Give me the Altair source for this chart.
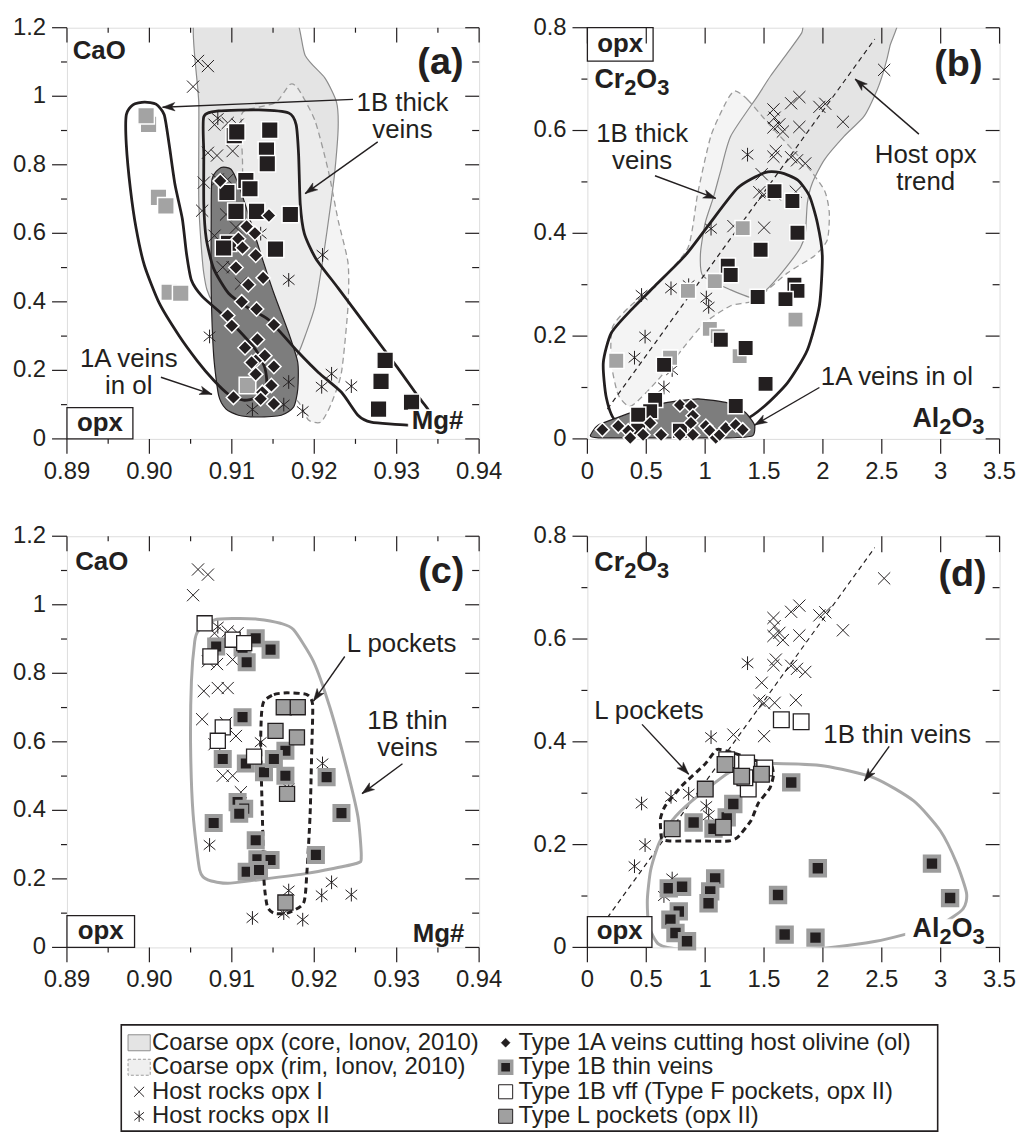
import math
import altair as alt
import pandas as pd

FONT = "Liberation Sans"
INK = "#231f20"
CORE_FILL = "#e4e4e4"
RIM_FILL = "#efefef"
CORE_LINE = "#8c8c8c"
RIM_LINE = "#9b9b9b"
DARK_FILL = "#7d7d7d"
SQ_GRAY = "#a3a3a3"
THIN_RIM = "#9c9c9c"
THIN_LINE = "#a8a8a8"
L_FILL = "#a0a0a0"

W, H = 415, 414
TICK_FONT = 24
NOTE_FONT = 26

# ---------------------------------------------------------------- axes
MG_DOMAIN = [0.89, 0.94]
CAO_DOMAIN = [0.0, 1.2]
AL_DOMAIN = [0.0, 3.5]
CR_DOMAIN = [0.0, 0.8]

MG_MAJOR = [0.89, 0.90, 0.91, 0.92, 0.93, 0.94]
MG_LABELS = ["0.89", "0.90", "0.91", "0.92", "0.93", "0.94"]
MG_MINOR = [0.895, 0.905, 0.915, 0.925, 0.935]
CAO_MAJOR = [0, 0.2, 0.4, 0.6, 0.8, 1.0, 1.2]
CAO_LABELS = ["0", "0.2", "0.4", "0.6", "0.8", "1", "1.2"]
CAO_MINOR = [0.1, 0.3, 0.5, 0.7, 0.9, 1.1]
AL_MAJOR = [0, 0.5, 1, 1.5, 2, 2.5, 3, 3.5]
AL_LABELS = ["0", "0.5", "1", "1.5", "2", "2.5", "3", "3.5"]
CR_MAJOR = [0, 0.2, 0.4, 0.6, 0.8]
CR_LABELS = ["0", "0.2", "0.4", "0.6", "0.8"]
CR_MINOR = [0.1, 0.3, 0.5, 0.7]

# ---------------------------------------------------------------- host rocks
HOST1_MG = [0.9059, 0.9071, 0.9053, 0.9079, 0.9095, 0.9107, 0.9071, 0.9082, 0.9101, 0.9066,
            0.9083, 0.9095, 0.9064, 0.9093, 0.9105, 0.9079, 0.9089, 0.9101, 0.9111]
HOST1_CAO = [1.103, 1.088, 1.028, 0.917, 0.922, 0.917, 0.835, 0.827, 0.840, 0.748,
             0.757, 0.757, 0.666, 0.655, 0.617, 0.593, 0.501, 0.501, 0.453]
HOST2_MG = [0.9083, 0.9135, 0.9073, 0.9169, 0.9163, 0.9221, 0.9209, 0.9245, 0.9186, 0.9125, 0.9210, 0.9169]
HOST2_CAO = [0.936, 0.599, 0.299, 0.166, 0.100, 0.190, 0.152, 0.154, 0.081, 0.086, 0.537, 0.464]

HOST1_AL = [2.52, 1.58, 1.59, 1.73, 1.80, 1.97, 2.02, 2.17, 1.58, 1.66, 1.80, 1.63,
            1.60, 1.58, 1.73, 1.78, 1.85, 1.48, 1.46, 1.50, 1.59, 1.77, 1.50, 1.24]
HOST1_CR = [0.718, 0.641, 0.625, 0.653, 0.665, 0.646, 0.652, 0.617, 0.606, 0.598, 0.607, 0.612,
            0.560, 0.549, 0.548, 0.542, 0.536, 0.515, 0.480, 0.475, 0.476, 0.481, 0.411, 0.414]
HOST2_AL = [1.36, 1.05, 0.46, 0.71, 0.86, 1.01, 1.03, 0.49, 0.40, 0.72, 0.65]
HOST2_CR = [0.553, 0.409, 0.280, 0.293, 0.299, 0.275, 0.257, 0.199, 0.158, 0.134, 0.100]

# ---------------------------------------------------------------- (a) veins, CaO vs Mg#
A_BLACK_MG = [0.9103, 0.9106, 0.9146, 0.9142, 0.9143, 0.9117, 0.9122, 0.9094, 0.9105, 0.9130,
              0.9171, 0.9096, 0.9090, 0.9153, 0.9286, 0.9281, 0.9278, 0.9318]
A_BLACK_CAO = [0.885, 0.896, 0.901, 0.843, 0.803, 0.754, 0.730, 0.719, 0.664, 0.664,
               0.655, 0.571, 0.557, 0.554, 0.229, 0.168, 0.087, 0.107]
A_GRAY_MG = [0.8999, 0.8996, 0.9011, 0.9020, 0.9024, 0.9038, 0.9119]
A_GRAY_CAO = [0.918, 0.943, 0.705, 0.680, 0.428, 0.425, 0.156]
A_1A_MG = [0.9086, 0.9108, 0.9113, 0.9129, 0.9145, 0.9095, 0.9130, 0.9131, 0.9116, 0.9140,
           0.9129, 0.9129, 0.9102, 0.9137, 0.9135, 0.9151, 0.9151, 0.9148, 0.9151, 0.9124,
           0.9118, 0.9128, 0.9105, 0.9120, 0.9138, 0.9112, 0.9100]
A_1A_CAO = [0.753, 0.584, 0.558, 0.536, 0.652, 0.360, 0.379, 0.290, 0.266, 0.243,
            0.228, 0.189, 0.121, 0.136, 0.117, 0.333, 0.211, 0.156, 0.102, 0.223,
            0.620, 0.600, 0.500, 0.450, 0.470, 0.400, 0.330]

# ---------------------------------------------------------------- (b) veins, Cr2O3 vs Al2O3
B_BLACK_AL = [1.589, 1.741, 1.784, 1.471, 1.758, 1.784, 1.682, 1.446, 1.192, 1.217,
              1.133, 1.344, 1.513, 0.651, 0.575, 0.533, 0.431, 1.260, 0.431, 0.786]
B_BLACK_CR = [0.482, 0.463, 0.401, 0.368, 0.300, 0.288, 0.272, 0.276, 0.337, 0.319,
              0.193, 0.177, 0.107, 0.144, 0.076, 0.054, 0.047, 0.064, 0.016, 0.016]
B_GRAY_AL = [1.319, 0.854, 1.082, 1.040, 1.107, 0.245, 0.702, 1.293, 1.767]
B_GRAY_CR = [0.410, 0.288, 0.307, 0.214, 0.200, 0.152, 0.158, 0.161, 0.232]
B_1A_AL = [0.127, 0.262, 0.347, 0.364, 0.473, 0.533, 0.626, 0.786, 0.879, 0.896,
           0.879, 0.786, 0.896, 1.006, 1.040, 1.090, 1.124, 1.175, 1.260, 1.319]
B_1A_CR = [0.018, 0.025, 0.016, 0.002, 0.008, 0.031, 0.008, 0.066, 0.064, 0.045,
           0.031, 0.008, 0.008, 0.025, 0.016, 0.002, 0.008, 0.021, 0.027, 0.018]

# ---------------------------------------------------------------- (c) thin veins and pockets, CaO vs Mg#
C_THIN_MG = [0.9081, 0.9113, 0.9129, 0.9147, 0.9118, 0.9113, 0.9089, 0.9117, 0.9139, 0.9165,
             0.9151, 0.9165, 0.9215, 0.9107, 0.9115, 0.9109, 0.9078, 0.9233, 0.9129, 0.9131,
             0.9147, 0.9118, 0.9133, 0.9202]
C_THIN_CAO = [0.878, 0.875, 0.902, 0.869, 0.832, 0.672, 0.550, 0.537, 0.511, 0.574,
              0.550, 0.501, 0.497, 0.424, 0.405, 0.390, 0.363, 0.392, 0.313, 0.257,
              0.255, 0.221, 0.226, 0.270]
C_VFF_MG = [0.9067, 0.9101, 0.9115, 0.9074, 0.9089, 0.9083, 0.9127]
C_VFF_CAO = [0.946, 0.898, 0.888, 0.849, 0.642, 0.603, 0.557]
C_L_MG = [0.9163, 0.9180, 0.9153, 0.9179, 0.9167, 0.9165]
C_L_CAO = [0.701, 0.701, 0.632, 0.613, 0.448, 0.131]

# ---------------------------------------------------------------- (d) thin veins and pockets, Cr2O3 vs Al2O3
D_THIN_AL = [0.691, 0.804, 1.085, 1.043, 1.029, 0.776, 0.705, 0.748, 0.846, 0.902,
             1.071, 1.183, 1.239, 1.731, 1.957, 1.619, 2.926, 3.080, 1.675, 1.937]
D_THIN_CR = [0.115, 0.118, 0.134, 0.109, 0.086, 0.070, 0.054, 0.028, 0.012, 0.243,
             0.231, 0.253, 0.279, 0.321, 0.154, 0.102, 0.163, 0.096, 0.025, 0.019]
D_VFF_AL = [1.647, 1.815, 1.183, 1.352, 1.366, 1.506, 1.337]
D_VFF_CR = [0.443, 0.439, 0.365, 0.359, 0.308, 0.349, 0.330]
D_L_AL = [0.720, 1.001, 1.169, 1.310, 1.155, 1.478]
D_L_CR = [0.231, 0.308, 0.356, 0.333, 0.234, 0.337]

# ---------------------------------------------------------------- outlined fields (x, y vertices)
A_CORE_FIELD = [(0.9058, 1.26), (0.9169, 1.26), (0.9189, 1.119), (0.9213, 1.053), (0.9227, 0.983),
                (0.9229, 0.908), (0.9225, 0.781), (0.9220, 0.685), (0.9211, 0.532), (0.9201, 0.388),
                (0.9189, 0.301), (0.9181, 0.252), (0.9169, 0.217), (0.9145, 0.237), (0.9078, 0.396),
                (0.9066, 0.483), (0.9060, 0.685), (0.9060, 0.975)]
A_RIM_FIELD = [(0.9112, 0.948), (0.9133, 0.968), (0.9154, 0.983), (0.9171, 1.035), (0.9181, 1.020),
               (0.9201, 0.928), (0.9217, 0.783), (0.9229, 0.638), (0.9241, 0.513), (0.9241, 0.388),
               (0.9233, 0.194), (0.9220, 0.099), (0.9208, 0.049), (0.9193, 0.055), (0.9181, 0.107),
               (0.9157, 0.165), (0.9120, 0.310), (0.9114, 0.542), (0.9113, 0.803)]
A_1A_FIELD = [(0.9087, 0.792), (0.9076, 0.758), (0.9075, 0.628), (0.9075, 0.434), (0.9078, 0.243),
              (0.9084, 0.127), (0.9093, 0.087), (0.9108, 0.069), (0.9129, 0.064), (0.9160, 0.069),
              (0.9175, 0.093), (0.9180, 0.145), (0.9180, 0.223), (0.9169, 0.309), (0.9151, 0.425),
              (0.9135, 0.541), (0.9120, 0.656), (0.9108, 0.743), (0.9099, 0.787)]
A_1B_LEFT = [(0.8994, 0.983), (0.9008, 0.977), (0.9018, 0.946), (0.9024, 0.859), (0.9031, 0.743),
             (0.9040, 0.642), (0.9045, 0.541), (0.9051, 0.463), (0.9064, 0.416), (0.9087, 0.367),
             (0.9108, 0.318), (0.9129, 0.260), (0.9140, 0.208), (0.9142, 0.159), (0.9130, 0.121),
             (0.9114, 0.113), (0.9096, 0.130), (0.9078, 0.171), (0.9058, 0.228), (0.9036, 0.301),
             (0.9012, 0.396), (0.8994, 0.506), (0.8984, 0.613), (0.8977, 0.729), (0.8972, 0.859),
             (0.8972, 0.946), (0.8980, 0.975)]
A_1B_RIGHT = [(0.9066, 0.940), (0.9084, 0.957), (0.9133, 0.960), (0.9169, 0.951), (0.9178, 0.917),
              (0.9181, 0.830), (0.9183, 0.685), (0.9188, 0.599), (0.9202, 0.526), (0.9229, 0.440),
              (0.9265, 0.324), (0.9301, 0.208), (0.9325, 0.127), (0.9340, 0.078), (0.9335, 0.043),
              (0.9313, 0.040), (0.9269, 0.049), (0.9253, 0.069), (0.9233, 0.136), (0.9205, 0.194),
              (0.9181, 0.252), (0.9145, 0.347), (0.9120, 0.382), (0.9096, 0.425), (0.9078, 0.497),
              (0.9069, 0.584), (0.9066, 0.685), (0.9066, 0.830)]

B_CORE_FIELD = [(1.90, 0.83), (2.62, 0.83), (2.570, 0.765), (2.519, 0.718), (2.460, 0.679),
                (2.350, 0.628), (2.181, 0.589), (2.012, 0.543), (1.910, 0.498), (1.868, 0.459),
                (1.851, 0.401), (1.809, 0.372), (1.699, 0.337), (1.555, 0.298), (1.420, 0.274),
                (1.217, 0.290), (0.981, 0.317), (0.960, 0.360), (1.000, 0.420), (1.070, 0.470),
                (1.130, 0.520), (1.217, 0.589), (1.445, 0.667), (1.555, 0.706), (1.699, 0.751),
                (1.820, 0.790)]
B_RIM_FIELD = [(1.251, 0.677), (1.361, 0.660), (1.555, 0.609), (1.843, 0.537), (2.012, 0.484),
               (2.054, 0.440), (2.037, 0.387), (1.927, 0.356), (1.699, 0.323), (1.420, 0.270),
               (1.217, 0.259), (0.997, 0.226), (0.828, 0.181), (0.600, 0.115), (0.372, 0.064),
               (0.262, 0.086), (0.203, 0.148), (0.211, 0.216), (0.347, 0.255), (0.600, 0.304),
               (0.854, 0.372), (0.938, 0.479), (1.048, 0.589), (1.175, 0.654)]
B_1A_FIELD = [(0.025, 0.006), (0.093, 0.027), (0.372, 0.051), (0.659, 0.070), (0.938, 0.078),
              (1.192, 0.070), (1.344, 0.051), (1.420, 0.027), (1.403, 0.006), (1.192, 0.002),
              (0.516, 0.002), (0.093, 0.002)]
B_1B_FIELD = [(1.023, 0.414), (1.276, 0.488), (1.505, 0.518), (1.640, 0.518), (1.784, 0.504),
              (1.885, 0.473), (1.953, 0.420), (1.995, 0.356), (1.970, 0.259), (1.868, 0.173),
              (1.699, 0.109), (1.505, 0.064), (1.336, 0.037), (1.107, 0.027), (0.600, 0.027),
              (0.245, 0.035), (0.161, 0.080), (0.135, 0.148), (0.203, 0.206), (0.372, 0.251),
              (0.575, 0.298), (0.828, 0.356)]

C_THIN_FIELD = [(0.9059, 0.923), (0.9079, 0.956), (0.9103, 0.960), (0.9131, 0.958), (0.9159, 0.946),
                (0.9175, 0.927), (0.9199, 0.835), (0.9219, 0.700), (0.9239, 0.526), (0.9253, 0.381),
                (0.9257, 0.265), (0.9251, 0.245), (0.9191, 0.216), (0.9131, 0.197), (0.9095, 0.187),
                (0.9071, 0.197), (0.9061, 0.226), (0.9053, 0.390), (0.9050, 0.584), (0.9051, 0.777),
                (0.9055, 0.893)]
C_LPOCK_FIELD = [(0.9139, 0.719), (0.9151, 0.738), (0.9167, 0.743), (0.9191, 0.738), (0.9198, 0.709),
                 (0.9197, 0.584), (0.9195, 0.390), (0.9191, 0.216), (0.9187, 0.129), (0.9167, 0.100),
                 (0.9151, 0.100), (0.9143, 0.120), (0.9139, 0.197), (0.9137, 0.390), (0.9135, 0.584),
                 (0.9136, 0.681)]

D_THIN_FIELD = [(1.20, 0.340), (0.888, 0.285), (0.720, 0.247), (0.607, 0.202), (0.537, 0.150),
                (0.509, 0.092), (0.523, 0.041), (0.607, 0.006), (0.80, -0.004), (1.30, -0.006),
                (1.80, -0.004), (2.07, 0.0), (2.45, 0.012), (2.69, 0.025), (3.00, 0.045),
                (3.19, 0.075), (3.22, 0.105), (3.137, 0.163), (2.997, 0.227), (2.771, 0.285),
                (2.434, 0.330), (2.012, 0.353), (1.60, 0.358), (1.40, 0.355)]
D_LPOCK_FIELD = [(0.63, 0.212), (0.62, 0.250), (0.66, 0.275), (0.80, 0.314), (1.00, 0.357),
                 (1.10, 0.385), (1.22, 0.380), (1.45, 0.362), (1.56, 0.356), (1.58, 0.335),
                 (1.55, 0.310), (1.45, 0.280), (1.39, 0.247), (1.28, 0.215), (1.20, 0.207),
                 (0.95, 0.207), (0.70, 0.207)]

TREND_AL = [0.17, 2.44]
TREND_CR = [0.058, 0.778]

# ---------------------------------------------------------------- symbols
X_PATH = "M-1,-1L1,1M-1,1L1,-1"
STAR_PATH = "M-0.85,-0.7L0.85,0.7M-0.85,0.7L0.85,-0.7M0,-1L0,1"
HEAD_PATH = "M0,0L-0.34,1L0,0.74L0.34,1Z"
SWATCH_PATH = "M-1,-0.72H1V0.72H-1Z"

# oxide formulas drawn as (text, is_subscript) pieces
CR2O3 = [("Cr", False), ("2", True), ("O", False), ("3", True)]
AL2O3 = [("Al", False), ("2", True), ("O", False), ("3", True)]
# advance widths (em) of the bold glyphs used in the formulas
BOLD_EM = {"C": 0.722, "r": 0.389, "O": 0.778, "A": 0.722, "l": 0.278, "2": 0.556, "3": 0.556}


def sc(domain):
    return alt.Scale(domain=domain, nice=False, zero=False)


def enc(sx, sy, xf="x", yf="y"):
    return dict(x=alt.X(f"{xf}:Q", scale=sx, axis=None), y=alt.Y(f"{yf}:Q", scale=sy, axis=None))


def symbols(xs, ys, sx, sy, shape, size, fill="", stroke=INK, width=1.0):
    kw = dict(shape=shape, size=size, opacity=1, stroke=stroke, strokeWidth=width)
    if fill:
        kw.update(filled=True, fill=fill)
    else:
        kw.update(filled=False)
    return alt.Chart(pd.DataFrame({"x": xs, "y": ys})).mark_point(**kw).encode(**enc(sx, sy))


def region(verts, sx, sy, fill="", stroke="", width=1.2, dash=(), opacity=1.0, tension=0.35):
    df = pd.DataFrame({"x": [v[0] for v in verts], "y": [v[1] for v in verts],
                       "i": list(range(len(verts)))})
    kw = dict(interpolate="cardinal-closed", tension=tension, clip=True, strokeWidth=width,
              stroke=stroke if stroke else "transparent")
    if fill:
        kw.update(fill=fill, fillOpacity=opacity)
    if dash:
        kw["strokeDash"] = list(dash)
    return alt.Chart(df).mark_line(**kw).encode(order="i:Q", **enc(sx, sy))


def segment(xs, ys, sx, sy, width=1.1, dash=()):
    df = pd.DataFrame({"x": [xs[0]], "y": [ys[0]], "x2": [xs[1]], "y2": [ys[1]]})
    kw = dict(color=INK, strokeWidth=width)
    if dash:
        kw["strokeDash"] = list(dash)
    return alt.Chart(df).mark_rule(**kw).encode(x2="x2:Q", y2="y2:Q", **enc(sx, sy))


def arrows(segs, sx, sy, xdom, ydom):
    kx = W / (xdom[1] - xdom[0])
    ky = H / (ydom[1] - ydom[0])
    rows = []
    for x0, y0, x1, y1 in segs:
        dxp = (x1 - x0) * kx
        dyp = -(y1 - y0) * ky
        ang = math.degrees(math.atan2(dxp, -dyp)) % 360
        rows.append(dict(x=x0, y=y0, x2=x1, y2=y1, ang=ang))
    df = pd.DataFrame(rows)
    shaft = alt.Chart(df).mark_rule(color=INK, strokeWidth=1.4).encode(
        x2="x2:Q", y2="y2:Q", **enc(sx, sy))
    head = alt.Chart(df).mark_point(shape=HEAD_PATH, filled=True, fill=INK, stroke=INK,
                                    strokeWidth=0.5, size=620, opacity=1).encode(
        angle=alt.Angle("ang:Q", scale=None), **enc(sx, sy, "x2", "y2"))
    return [shaft, head]


def labels(rows, sx, sy, size, weight="normal", align="center"):
    df = pd.DataFrame(rows, columns=["x", "y", "t"])
    return alt.Chart(df).mark_text(font=FONT, fontSize=size, fontWeight=weight, align=align,
                                   baseline="middle", color=INK).encode(text="t:N", **enc(sx, sy))


def formula(parts, x, y, sx, sy, anchor="left", size=27, sub_size=22, drop=7):
    """Bold chemical formula with lowered subscripts; (x, y) is the baseline anchor."""
    widths = [sum(BOLD_EM[c] for c in txt) * (sub_size if is_sub else size) for txt, is_sub in parts]
    off = 0.0 if anchor == "left" else -sum(widths)
    out = []
    for (txt, is_sub), w in zip(parts, widths):
        df = pd.DataFrame({"x": [x], "y": [y], "t": [txt]})
        out.append(alt.Chart(df).mark_text(
            font=FONT, fontWeight="bold", fontSize=sub_size if is_sub else size, align="left",
            baseline="alphabetic", color=INK, dx=round(off, 1), dy=drop if is_sub else 0,
        ).encode(text="t:N", **enc(sx, sy)))
        off += w
    return out


def box(x0, x1, y0, y1, sx, sy, stroke=True):
    df = pd.DataFrame({"x": [x0], "x2": [x1], "y": [y0], "y2": [y1]})
    kw = dict(fill="white", strokeWidth=1.3)
    kw["stroke"] = INK if stroke else "white"
    if not stroke:
        kw["strokeWidth"] = 0.5
    return alt.Chart(df).mark_rect(**kw).encode(x2="x2:Q", y2="y2:Q", **enc(sx, sy))


def frame_axes(sx, sy, x_major, x_text, x_minor, y_major, y_text, y_minor, top_len=15):
    """Outward ticks with labels on the bottom/left, inward ticks on the top/right."""
    xdf = pd.DataFrame({"v": x_major, "t": x_text})
    ydf = pd.DataFrame({"v": y_major, "t": y_text})
    xe = alt.X("v:Q", scale=sx, axis=None)
    ye = alt.Y("v:Q", scale=sy, axis=None)

    def rule(df):
        return alt.Chart(df).mark_rule(color=INK, strokeWidth=1.2)

    def text(df, **kw):
        return alt.Chart(df).mark_text(font=FONT, fontSize=TICK_FONT, color=INK, **kw)

    out = [
        rule(xdf).encode(x=xe, y=alt.value(H), y2=alt.value(H + 15)),
        text(xdf, align="center", baseline="top").encode(x=xe, y=alt.value(H + 21), text="t:N"),
        rule(ydf).encode(y=ye, x=alt.value(0), x2=alt.value(-15)),
        text(ydf, align="right", baseline="middle").encode(y=ye, x=alt.value(-21), text="t:N"),
        rule(xdf).encode(x=xe, y=alt.value(0), y2=alt.value(top_len)),
        rule(ydf).encode(y=ye, x=alt.value(W), x2=alt.value(W - 14)),
    ]
    if x_minor:
        mdf = pd.DataFrame({"v": x_minor})
        out.append(rule(mdf).encode(x=xe, y=alt.value(H), y2=alt.value(H + 5)))
        out.append(rule(mdf).encode(x=xe, y=alt.value(0), y2=alt.value(5)))
    if y_minor:
        mdf = pd.DataFrame({"v": y_minor})
        out.append(rule(mdf).encode(y=ye, x=alt.value(0), x2=alt.value(-6)))
        out.append(rule(mdf).encode(y=ye, x=alt.value(W), x2=alt.value(W - 7)))
    return out


# ================================================================ panel (a)
sxa, sya = sc(MG_DOMAIN), sc(CAO_DOMAIN)
panel_a = alt.layer(
    region(A_CORE_FIELD, sxa, sya, fill=CORE_FILL),
    region(A_RIM_FIELD, sxa, sya, fill=RIM_FILL, opacity=0.7),
    region(A_CORE_FIELD, sxa, sya, stroke=CORE_LINE, width=1.2),
    region(A_RIM_FIELD, sxa, sya, stroke=RIM_LINE, width=1.3, dash=(6, 4)),
    region(A_1A_FIELD, sxa, sya, fill=DARK_FILL, stroke=INK, width=1.2),
    symbols(HOST1_MG, HOST1_CAO, sxa, sya, X_PATH, 150),
    symbols(HOST2_MG, HOST2_CAO, sxa, sya, STAR_PATH, 190),
    region(A_1B_LEFT, sxa, sya, stroke=INK, width=2.8),
    region(A_1B_RIGHT, sxa, sya, stroke=INK, width=2.8),
    symbols(A_GRAY_MG, A_GRAY_CAO, sxa, sya, "square", 280, fill=SQ_GRAY, stroke="white", width=1.5),
    symbols(A_BLACK_MG, A_BLACK_CAO, sxa, sya, "square", 280, fill=INK, stroke="white", width=1.5),
    symbols(A_1A_MG, A_1A_CAO, sxa, sya, "diamond", 210, fill=INK, stroke="white", width=1.5),
    *arrows([(0.9247, 0.991, 0.9016, 0.968), (0.9277, 0.867, 0.9189, 0.716),
             (0.9014, 0.180, 0.9076, 0.130)], sxa, sya, MG_DOMAIN, CAO_DOMAIN),
    labels([(0.9307, 0.980, "1B thick"), (0.9307, 0.901, "veins"),
            (0.8975, 0.233, "1A veins"), (0.8975, 0.154, "in ol")], sxa, sya, NOTE_FONT),
    labels([(0.8907, 1.132, "CaO")], sxa, sya, 26, "bold", "left"),
    labels([(0.9381, 1.096, "(a)")], sxa, sya, 38, "bold", "right"),
    box(0.9314, 0.9386, 0.024, 0.086, sxa, sya, stroke=False),
    labels([(0.9381, 0.053, "Mg#")], sxa, sya, 26, "bold", "right"),
    box(0.89, 0.8980, 0.0, 0.091, sxa, sya),
    labels([(0.8940, 0.046, "opx")], sxa, sya, 26, "bold"),
    *frame_axes(sxa, sya, MG_MAJOR, MG_LABELS, MG_MINOR, CAO_MAJOR, CAO_LABELS, CAO_MINOR),
).properties(width=W, height=H)

# ================================================================ panel (b)
sxb, syb = sc(AL_DOMAIN), sc(CR_DOMAIN)
panel_b = alt.layer(
    region(B_CORE_FIELD, sxb, syb, fill=CORE_FILL),
    region(B_RIM_FIELD, sxb, syb, fill=RIM_FILL, opacity=0.7),
    region(B_CORE_FIELD, sxb, syb, stroke=CORE_LINE, width=1.2),
    region(B_RIM_FIELD, sxb, syb, stroke=RIM_LINE, width=1.3, dash=(6, 4)),
    segment(TREND_AL, TREND_CR, sxb, syb, width=1.2, dash=(5, 4)),
    symbols(HOST1_AL, HOST1_CR, sxb, syb, X_PATH, 150),
    symbols(HOST2_AL, HOST2_CR, sxb, syb, STAR_PATH, 190),
    region(B_1B_FIELD, sxb, syb, stroke=INK, width=2.8),
    region(B_1A_FIELD, sxb, syb, fill=DARK_FILL, stroke=INK, width=1.2, tension=0.5),
    symbols(B_GRAY_AL, B_GRAY_CR, sxb, syb, "square", 240, fill=SQ_GRAY, stroke="white", width=1.5),
    symbols(B_BLACK_AL, B_BLACK_CR, sxb, syb, "square", 240, fill=INK, stroke="white", width=1.5),
    symbols(B_1A_AL, B_1A_CR, sxb, syb, "diamond", 200, fill=INK, stroke="white", width=1.5),
    *arrows([(0.574, 0.512, 1.090, 0.468), (2.815, 0.593, 2.274, 0.700),
             (1.970, 0.100, 1.420, 0.027)], sxb, syb, AL_DOMAIN, CR_DOMAIN),
    labels([(0.465, 0.594, "1B thick"), (0.465, 0.541, "veins"),
            (2.873, 0.552, "Host opx"), (2.873, 0.499, "trend"),
            (2.628, 0.120, "1A veins in ol")], sxb, syb, NOTE_FONT),
    box(0.0, 0.558, 0.735, 0.8, sxb, syb),
    labels([(0.279, 0.768, "opx")], sxb, syb, 26, "bold"),
    *formula(CR2O3, 0.06, 0.682, sxb, syb),
    labels([(3.355, 0.727, "(b)")], sxb, syb, 38, "bold", "right"),
    *formula(AL2O3, 3.372, 0.023, sxb, syb, anchor="right"),
    *frame_axes(sxb, syb, AL_MAJOR, AL_LABELS, [], CR_MAJOR, CR_LABELS, CR_MINOR, top_len=16),
).properties(width=W, height=H)

# ================================================================ panel (c)
sxc, syc = sc(MG_DOMAIN), sc(CAO_DOMAIN)
panel_c = alt.layer(
    symbols(HOST1_MG, HOST1_CAO, sxc, syc, X_PATH, 150),
    symbols(HOST2_MG, HOST2_CAO, sxc, syc, STAR_PATH, 190),
    region(C_THIN_FIELD, sxc, syc, stroke=THIN_LINE, width=3),
    region(C_LPOCK_FIELD, sxc, syc, stroke=INK, width=3, dash=(6, 4)),
    symbols(C_THIN_MG, C_THIN_CAO, sxc, syc, "square", 200, fill=INK, stroke=THIN_RIM, width=4),
    symbols(C_VFF_MG, C_VFF_CAO, sxc, syc, "square", 230, fill="white", stroke=INK, width=1.3),
    symbols(C_L_MG, C_L_CAO, sxc, syc, "square", 230, fill=L_FILL, stroke=INK, width=1.3),
    *arrows([(0.9237, 0.849, 0.9199, 0.719), (0.9307, 0.536, 0.9258, 0.449)],
            sxc, syc, MG_DOMAIN, CAO_DOMAIN),
    labels([(0.9306, 0.884, "L pockets"), (0.9313, 0.662, "1B thin"),
            (0.9313, 0.583, "veins")], sxc, syc, NOTE_FONT),
    labels([(0.8910, 1.125, "CaO")], sxc, syc, 26, "bold", "left"),
    labels([(0.9382, 1.096, "(c)")], sxc, syc, 38, "bold", "right"),
    labels([(0.9382, 0.040, "Mg#")], sxc, syc, 26, "bold", "right"),
    box(0.89, 0.8982, 0.0, 0.093, sxc, syc),
    labels([(0.8941, 0.047, "opx")], sxc, syc, 26, "bold"),
    *frame_axes(sxc, syc, MG_MAJOR, MG_LABELS, MG_MINOR, CAO_MAJOR, CAO_LABELS, CAO_MINOR),
).properties(width=W, height=H)

# ================================================================ panel (d)
sxd, syd = sc(AL_DOMAIN), sc(CR_DOMAIN)
panel_d = alt.layer(
    segment(TREND_AL, TREND_CR, sxd, syd, width=1.2, dash=(5, 4)),
    symbols(HOST1_AL, HOST1_CR, sxd, syd, X_PATH, 150),
    symbols(HOST2_AL, HOST2_CR, sxd, syd, STAR_PATH, 190),
    region(D_THIN_FIELD, sxd, syd, stroke=THIN_LINE, width=3),
    region(D_LPOCK_FIELD, sxd, syd, stroke=INK, width=3, dash=(6, 4), tension=0.5),
    symbols(D_THIN_AL, D_THIN_CR, sxd, syd, "square", 210, fill=INK, stroke=THIN_RIM, width=4),
    symbols(D_VFF_AL, D_VFF_CR, sxd, syd, "square", 250, fill="white", stroke=INK, width=1.3),
    symbols(D_L_AL, D_L_CR, sxd, syd, "square", 250, fill=L_FILL, stroke=INK, width=1.3),
    *arrows([(0.464, 0.434, 0.860, 0.337), (2.563, 0.391, 2.352, 0.324)],
            sxd, syd, AL_DOMAIN, CR_DOMAIN),
    labels([(0.523, 0.459, "L pockets"), (2.631, 0.414, "1B thin veins")], sxd, syd, NOTE_FONT),
    *formula(CR2O3, 0.059, 0.732, sxd, syd),
    labels([(3.39, 0.724, "(d)")], sxd, syd, 38, "bold", "right"),
    box(2.70, 3.40, 0.004, 0.055, sxd, syd, stroke=False),
    *formula(AL2O3, 3.373, 0.021, sxd, syd, anchor="right"),
    box(0.0, 0.548, 0.0, 0.060, sxd, syd),
    labels([(0.274, 0.031, "opx")], sxd, syd, 26, "bold"),
    *frame_axes(sxd, syd, AL_MAJOR, AL_LABELS, [], CR_MAJOR, CR_LABELS, CR_MINOR, top_len=16),
).properties(width=W, height=H)

# ================================================================ legend
LEG_KEYS = ["core", "rim", "host1", "host2", "v1a", "thin", "vff", "lpk"]
LEG_LABELS = ["Coarse opx (core, Ionov, 2010)", "Coarse opx (rim, Ionov, 2010)",
              "Host rocks opx I", "Host rocks opx II",
              "Type 1A veins cutting host olivine (ol)", "Type 1B thin veins",
              "Type 1B vff (Type F pockets, opx II)", "Type L pockets (opx II)"]
LEG_COL = [0, 0, 0, 0, 1, 1, 1, 1]
LEG_ROW = [0, 1, 2, 3, 0, 1, 2, 3]
leg_df = pd.DataFrame({"key": LEG_KEYS, "label": LEG_LABELS, "col": LEG_COL, "row": LEG_ROW})
lx = alt.Scale(domain=[0, 1], range=[18, 387])
ly = alt.Scale(domain=[0, 3], range=[18, 92])
lenc = dict(x=alt.X("col:Q", scale=lx, axis=None), y=alt.Y("row:Q", scale=ly, axis=None))


def leg_symbol(key, **mark):
    mark.setdefault("opacity", 1)
    return alt.Chart(leg_df).transform_filter(alt.datum.key == key).mark_point(**mark).encode(**lenc)


legend = alt.layer(
    alt.Chart(leg_df).mark_text(font=FONT, fontSize=24, align="left", baseline="middle",
                                color=INK, dx=13).encode(text="label:N", **lenc),
    leg_symbol("core", shape=SWATCH_PATH, size=500, filled=True, fill=CORE_FILL,
               stroke=CORE_LINE, strokeWidth=1),
    leg_symbol("rim", shape=SWATCH_PATH, size=500, filled=True, fill=RIM_FILL,
               stroke=RIM_LINE, strokeWidth=1, strokeDash=[3, 2]),
    leg_symbol("host1", shape=X_PATH, size=100, filled=False, stroke=INK, strokeWidth=1),
    leg_symbol("host2", shape=STAR_PATH, size=130, filled=False, stroke=INK, strokeWidth=1),
    leg_symbol("v1a", shape="diamond", size=80, filled=True, fill=INK, stroke=INK, strokeWidth=0.5),
    leg_symbol("thin", shape="square", size=150, filled=True, fill=INK, stroke=THIN_RIM,
               strokeWidth=3.5),
    leg_symbol("vff", shape="square", size=200, filled=True, fill="white", stroke=INK,
               strokeWidth=1),
    leg_symbol("lpk", shape="square", size=200, filled=True, fill=L_FILL, stroke=INK,
               strokeWidth=1),
    # transparent margin on the right so the centred box sits slightly left
    alt.Chart(leg_df.head(1)).mark_rule(strokeOpacity=0).encode(
        x=alt.value(822), x2=alt.value(846), y=alt.value(50)),
).properties(width=822, height=107, view=alt.ViewBackground(stroke=INK, strokeWidth=1.6))

top_row = alt.hconcat(panel_a, panel_b, spacing=30)
bottom_row = alt.hconcat(panel_c, panel_d, spacing=30)
grid = alt.vconcat(top_row, bottom_row, spacing=39)

chart = alt.vconcat(grid, legend, spacing=31, center=True).properties(
    padding={"left": 12, "top": 11, "right": 5, "bottom": 5}
).configure_view(stroke=INK, strokeWidth=1.3).configure(font=FONT)

chart.save("out.html", embed_options={"renderer": "svg", "actions": False})
